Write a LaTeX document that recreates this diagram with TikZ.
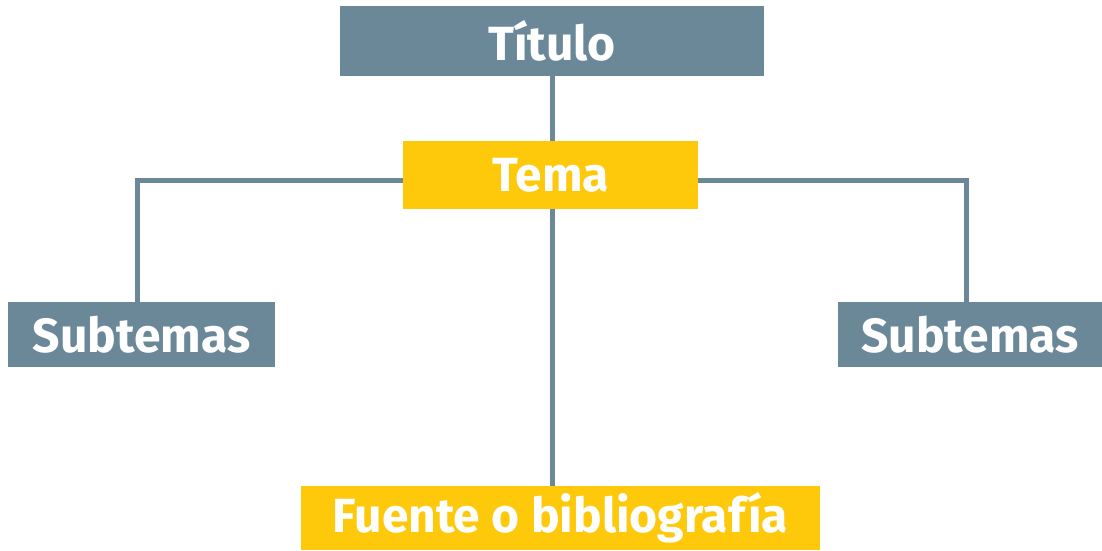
\documentclass[tikz,border=0pt]{standalone}
\usepackage{fontspec}
\newfontfamily\boxfont{Fira Sans}
\definecolor{slate}{HTML}{6B8899}
\definecolor{gold}{HTML}{FDC90A}
\begin{document}
\begin{tikzpicture}[x = 1pt, y = -1pt,
                    bnode/.style = {shape = rectangle,
                                    inner sep = 0pt,
                                    text = white,
                                    font = \boxfont\bfseries\fontsize{48}{48}\selectfont},
                    gnode/.style = {bnode, fill = slate},
                    ynode/.style = {bnode, fill = gold},
                    link/.style = {draw = slate, line width = 5pt}]
		\useasboundingbox (0,0) rectangle (1102,550);
		\node[gnode, minimum width = 424pt, minimum height = 70pt] (titulo) at (552,41) {Título};
		\node[ynode, minimum width = 295pt, minimum height = 68pt] (tema) at (550.5,175) {Tema};
		\node[gnode, minimum width = 267pt, minimum height = 65pt] (sub1) at (141.5,334.5) {Subtemas};
		\node[gnode, minimum width = 264pt, minimum height = 65pt] (sub2) at (970,334.5) {Subtemas};
		\node[ynode, minimum width = 519pt, minimum height = 64pt] (fuente) at (560.5,518) {Fuente o bibliografía};
		\path[link] (titulo) -- (titulo |- tema.north);
		\path[link] ([yshift=-5pt]tema.west) -| ([xshift=-4.5pt]sub1.north);
		\path[link] ([yshift=-5pt]tema.east) -| ([xshift=-4pt]sub2.north);
		\path[link] (titulo |- tema.south) -- (titulo |- fuente.north);
	\end{tikzpicture}
\end{document}
